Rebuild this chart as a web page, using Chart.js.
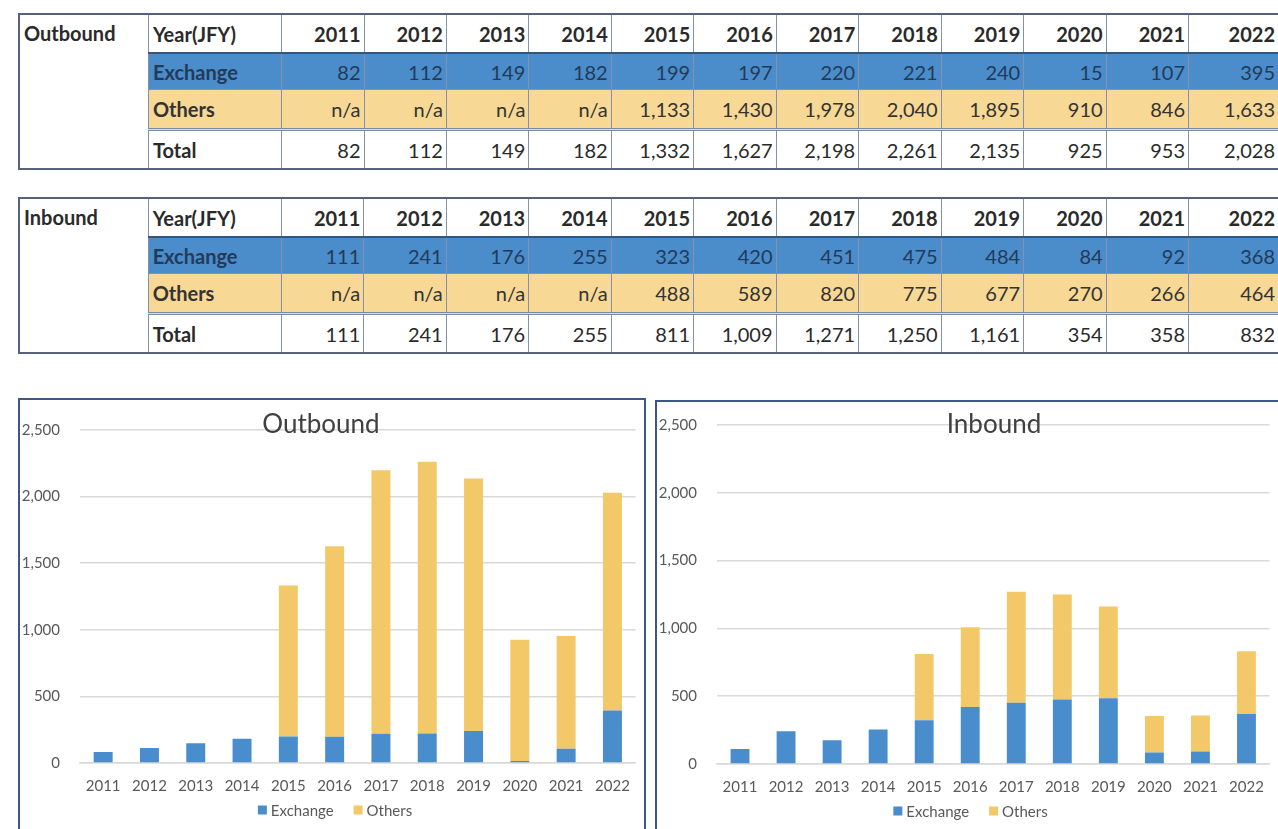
<!DOCTYPE html>
<html>
<head>
<meta charset="utf-8">
<script src="https://cdn.jsdelivr.net/npm/chart.js@4.4.1/dist/chart.umd.min.js"></script>
<style>
  html, body { margin: 0; padding: 0; background: #fff; overflow: hidden; }
  body { width: 1278px; height: 829px; position: relative; font-family: Lato, "Open Sans", sans-serif; }
  table.grid {
    position: absolute; left: 18px; border-collapse: collapse; table-layout: fixed;
    font-size: 20px; color: #2a2a2a;
  }
  table.grid td { padding: 0 3px; white-space: nowrap; border-left: 1px solid #8591ab; text-align: right; }
  table.grid td.lab { text-align: left; font-weight: bold; padding-left: 4px; }
  table.grid tr.hdr td { font-weight: bold; border-top: 2px solid #56627c; height: 37px; }
  table.grid tr.ex td { background: #4b8ccb; color: #233a58; border-top: 2px solid #40536f; height: 35px; }
  table.grid tr.ot td { background: #f7d895; color: #333; border-top: 1px solid #8591ab; height: 38px; }
  table.grid tr.tot td { border-top: 3px double #7d8aa3; border-bottom: 2px solid #56627c; height: 37px; }
  table.grid tr.hdr td.side {
    text-align: left; vertical-align: top; font-weight: bold; padding: 6px 4px;
    background: #fff; border-left: 2px solid #56627c; border-top: 2px solid #56627c; border-bottom: 2px solid #56627c;
  }
  .box { position: absolute; border: 2px solid #3d5787; box-sizing: border-box; background: #fff; }
  .inner { position: relative; }
</style>
</head>
<body>

<table class="grid" id="tblOut" style="top:13px"></table>
<table class="grid" id="tblIn" style="top:197px"></table>

<div class="box" style="left:18px;top:398px;width:628px;height:470px">
  <div class="inner" style="width:624px;height:460px"><canvas id="chartOut"></canvas></div>
</div>
<div class="box" style="left:655px;top:400px;width:640px;height:470px">
  <div class="inner" style="width:621px;height:460px"><canvas id="chartIn"></canvas></div>
</div>

<script>
// 年度
const years = ["2011", "2012", "2013", "2014", "2015", "2016", "2017", "2018", "2019", "2020", "2021", "2022"];

// Outbound
const outExchange = [82, 112, 149, 182, 199, 197, 220, 221, 240, 15, 107, 395];
const outOthers   = [null, null, null, null, 1133, 1430, 1978, 2040, 1895, 910, 846, 1633];
const outTotal    = [82, 112, 149, 182, 1332, 1627, 2198, 2261, 2135, 925, 953, 2028];

// Inbound
const inExchange = [111, 241, 176, 255, 323, 420, 451, 475, 484, 84, 92, 368];
const inOthers   = [null, null, null, null, 488, 589, 820, 775, 677, 270, 266, 464];
const inTotal    = [111, 241, 176, 255, 811, 1009, 1271, 1250, 1161, 354, 358, 832];

const yTicks = [0, 500, 1000, 1500, 2000, 2500];

const colExchange = "#4a8dcd";
const colOthers = "#f3c869";

// 表の組み立て
function fmt(v) {
  return v === null ? "n/a" : v.toLocaleString("en-US");
}

function renderTable(id, side, ex, ot, tot) {
  const t = document.getElementById(id);
  let html = '<colgroup><col style="width:130px"><col style="width:134px">';
  years.forEach((y, i) => { html += `<col style="width:${i === years.length - 1 ? 90 : 83}px">`; });
  html += '</colgroup>';
  html += `<tr class="hdr"><td class="side" rowspan="4">${side}</td><td class="lab">Year(JFY)</td>` +
    years.map(y => `<td>${y}</td>`).join("") + '</tr>';
  html += '<tr class="ex"><td class="lab">Exchange</td>' + ex.map(v => `<td>${fmt(v)}</td>`).join("") + '</tr>';
  html += '<tr class="ot"><td class="lab">Others</td>' + ot.map(v => `<td>${fmt(v)}</td>`).join("") + '</tr>';
  html += '<tr class="tot"><td class="lab">Total</td>' + tot.map(v => `<td>${fmt(v)}</td>`).join("") + '</tr>';
  t.innerHTML = html;
}

renderTable("tblOut", "Outbound", outExchange, outOthers, outTotal);
renderTable("tblIn", "Inbound", inExchange, inOthers, inTotal);

// タイトルと凡例（Excel風にプロット領域へ重ねる）
const overlay = {
  id: "overlay",
  afterDraw(chart, args, opts) {
    const ctx = chart.ctx;
    ctx.save();
    ctx.font = "26px Lato";
    ctx.fillStyle = "#404040";
    ctx.textAlign = "center";
    ctx.textBaseline = "middle";
    ctx.fillText(opts.text, opts.x, opts.y);

    // 凡例
    ctx.font = "15px Lato";
    ctx.textAlign = "left";
    const sets = chart.data.datasets;
    const box = 9, gapText = 4, gapItem = 20;
    const widths = sets.map(d => box + gapText + ctx.measureText(d.label).width);
    const total = widths.reduce((a, b) => a + b, 0) + gapItem * (sets.length - 1);
    let x = chart.width / 2 + 3 - total / 2;
    const y = chart.chartArea.bottom + 47;
    sets.forEach((d, i) => {
      ctx.fillStyle = d.backgroundColor;
      ctx.fillRect(x, y - box / 2, box, box);
      ctx.fillStyle = "#595959";
      ctx.fillText(d.label, x + box + gapText, y + 1);
      x += widths[i] + gapItem;
    });
    ctx.restore();
  }
};

function renderChart(canvasId, title, ex, ot, pad, titlePos) {
  const ctx = document.getElementById(canvasId).getContext("2d");
  return new Chart(ctx, {
    type: "bar",
    data: {
      labels: years,
      datasets: [
        { label: "Exchange", data: ex, backgroundColor: colExchange, barPercentage: 0.41, categoryPercentage: 1 },
        { label: "Others", data: ot, backgroundColor: colOthers, barPercentage: 0.41, categoryPercentage: 1 }
      ]
    },
    plugins: [overlay],
    options: {
      responsive: true,
      maintainAspectRatio: false,
      animation: false,
      layout: { padding: pad },
      scales: {
        x: {
          stacked: true,
          grid: { display: false, drawTicks: false },
          border: { color: "#d9d9d9", width: 1.5 },
          ticks: { color: "#595959", font: { family: "Lato", size: 15 }, padding: 14, maxRotation: 0 },
          afterFit: s => { s.height = 36; }
        },
        y: {
          stacked: true,
          min: 0,
          max: yTicks[yTicks.length - 1],
          afterBuildTicks: s => { s.ticks = yTicks.map(v => ({ value: v })); },
          grid: { color: "#d9d9d9", lineWidth: 1.5, drawTicks: true, tickLength: 18, tickColor: "rgba(0,0,0,0)" },
          border: { display: false },
          ticks: { color: "#595959", font: { family: "Lato", size: 15 }, padding: 2 },
          afterFit: s => { s.width = 60; }
        }
      },
      plugins: {
        legend: { display: false },
        tooltip: { enabled: false },
        overlay: { text: title, x: titlePos.x, y: titlePos.y }
      }
    }
  });
}

renderChart("chartOut", "Outbound", outExchange, outOthers, { top: 30, right: 4, bottom: 61, left: 0 }, { x: 301, y: 25 });
renderChart("chartIn", "Inbound", inExchange, inOthers, { top: 23, right: 3, bottom: 62, left: 0 }, { x: 337, y: 23 });
</script>
</body>
</html>
